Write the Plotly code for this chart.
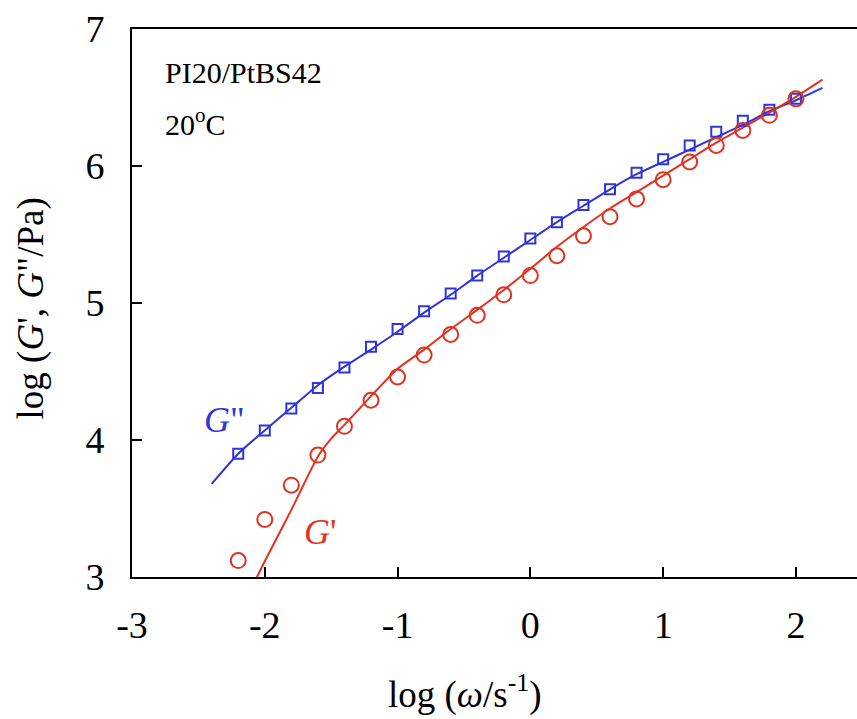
import plotly.graph_objects as go

# measured data (log omega, log modulus)
log_w = [-2.2, -2.0, -1.8, -1.6, -1.4, -1.2, -1.0, -0.8, -0.6, -0.4, -0.2, 0.0,
         0.2, 0.4, 0.6, 0.8, 1.0, 1.2, 1.4, 1.6, 1.8, 2.0]
log_G2 = [3.90, 4.07, 4.23, 4.38, 4.53, 4.68, 4.81, 4.94, 5.07, 5.20, 5.34, 5.47,
          5.59, 5.715, 5.83, 5.95, 6.05, 6.15, 6.25, 6.33, 6.41, 6.49]
log_G1 = [3.12, 3.42, 3.67, 3.89, 4.10, 4.29, 4.46, 4.62, 4.77, 4.91, 5.06, 5.20,
          5.345, 5.49, 5.63, 5.76, 5.90, 6.03, 6.15, 6.26, 6.37, 6.49]

# model curves
fit_w_G2 = [-2.4, -2.2, -2.0, -1.8, -1.6, -1.4, -1.2, -1.0, -0.8, -0.6, -0.4, -0.2, 0.0,
            0.2, 0.4, 0.6, 0.8, 1.0, 1.2, 1.4, 1.6, 1.8, 2.0, 2.2]
fit_G2 = [3.68, 3.90, 4.07, 4.235, 4.40, 4.535, 4.66, 4.79, 4.93, 5.06, 5.20, 5.33, 5.46,
          5.59, 5.71, 5.83, 5.94, 6.03, 6.12, 6.21, 6.30, 6.40, 6.48, 6.57]
fit_w_G1 = [-2.1, -2.0, -1.8, -1.6, -1.5, -1.4, -1.2, -1.0, -0.8, -0.6, -0.4, -0.2, 0.0,
            0.2, 0.4, 0.6, 0.8, 1.0, 1.2, 1.4, 1.6, 1.8, 2.0, 2.2]
fit_G1 = [2.92, 3.115, 3.49, 3.88, 4.01, 4.11, 4.32, 4.52, 4.66, 4.81, 4.95, 5.095, 5.25,
          5.41, 5.555, 5.69, 5.81, 5.93, 6.05, 6.17, 6.28, 6.39, 6.505, 6.63]

x_ticks = [-3, -2, -1, 0, 1, 2]
y_ticks = [3, 4, 5, 6, 7]

BLUE = "#2f35d9"
RED = "#e2321f"
FONT = "Liberation Serif"

fig = go.Figure()
fig.add_trace(go.Scatter(x=fit_w_G2, y=fit_G2, mode="lines",
                         line=dict(color=BLUE, width=2, shape="spline", smoothing=0.6),
                         showlegend=False))
fig.add_trace(go.Scatter(x=fit_w_G1, y=fit_G1, mode="lines",
                         line=dict(color=RED, width=2, shape="spline", smoothing=0.6),
                         showlegend=False))
fig.add_trace(go.Scatter(x=log_w, y=log_G2, mode="markers",
                         marker=dict(symbol="square-open", size=10, color=BLUE,
                                     line=dict(width=2, color=BLUE)),
                         showlegend=False))
fig.add_trace(go.Scatter(x=log_w, y=log_G1, mode="markers",
                         marker=dict(symbol="circle-open", size=15, color=RED,
                                     line=dict(width=2, color=RED)),
                         showlegend=False))

fig.update_layout(
    width=857, height=719,
    margin=dict(l=132, r=0, t=29, b=142),
    paper_bgcolor="white", plot_bgcolor="white",
    font=dict(family=FONT, color="black", size=37),
    xaxis=dict(range=[-3, 2.46], tickvals=x_ticks, ticktext=[str(v) for v in x_ticks],
               ticks="inside", ticklen=10, tickwidth=2, tickcolor="black",
               showline=True, linecolor="black", linewidth=2, mirror=True,
               showgrid=False, zeroline=False, tickfont=dict(size=38),
               ticklabelstandoff=13),
    yaxis=dict(range=[3, 7], tickvals=y_ticks, ticktext=[str(v) for v in y_ticks],
               ticks="inside", ticklen=10, tickwidth=2, tickcolor="black",
               showline=True, linecolor="black", linewidth=2, mirror=False,
               showgrid=False, zeroline=False, tickfont=dict(size=38),
               ticklabelstandoff=18),
    annotations=[
        dict(x=-2.767, y=6.679, xref="x", yref="y", text="PI20/PtBS42",
             showarrow=False, xanchor="left", yanchor="middle",
             font=dict(size=30, family=FONT)),
        dict(x=-2.767, y=6.321, xref="x", yref="y", text="20<sup>o</sup>C",
             showarrow=False, xanchor="left", yanchor="middle",
             font=dict(size=30, family=FONT)),
        dict(x=-2.473, y=4.146, xref="x", yref="y", text="<i>G</i>\"",
             showarrow=False, xanchor="left", yanchor="middle",
             font=dict(size=36, family=FONT, color=BLUE)),
        dict(x=-1.72, y=3.328, xref="x", yref="y", text="<i>G</i>'",
             showarrow=False, xanchor="left", yanchor="middle",
             font=dict(size=36, family=FONT, color=RED)),
        dict(x=-0.492, y=-0.21, xref="x", yref="paper",
             text="log (<i>ω</i>/s<sup>-1</sup>)",
             showarrow=False, xanchor="center", yanchor="middle",
             font=dict(size=37, family=FONT)),
        dict(x=-0.138, y=0.49, xref="paper", yref="paper",
             text="log (<i>G</i>', <i>G</i>\"/Pa)", textangle=-90,
             showarrow=False, xanchor="center", yanchor="middle",
             font=dict(size=37, family=FONT)),
    ],
)

fig.write_html("out.html")
